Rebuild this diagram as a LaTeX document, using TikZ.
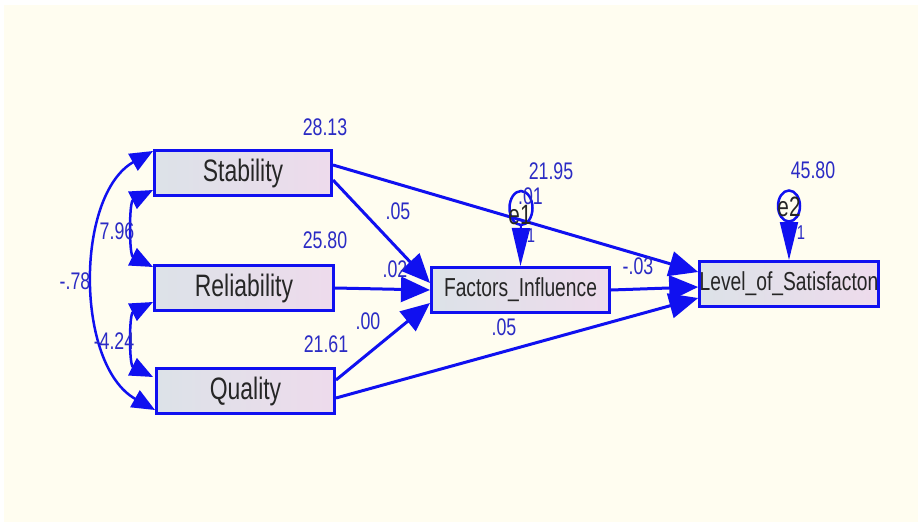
\documentclass[tikz,border=0pt]{standalone}
\usepackage{fontspec}
\newfontfamily\nf[FakeStretch=0.74]{Liberation Sans}
\usetikzlibrary{arrows.meta,shapes.geometric}
\definecolor{bg}{HTML}{FFFDF0}
\definecolor{ln}{HTML}{1010F0}
\definecolor{lbl}{HTML}{2B2BC4}
\definecolor{fl}{HTML}{DCE2E8}
\definecolor{fr}{HTML}{EEDBEC}
\begin{document}
\begin{tikzpicture}[x=1pt,y=-1pt,
  var/.style={draw=ln, line width=3pt, left color=fl, right color=fr, inner sep=0pt,
    minimum height=45pt, text=black!85},
  big/.style={font=\nf\fontsize{31}{31}\selectfont},
  small/.style={font=\nf\fontsize{26}{26}\selectfont},
  arr/.style={draw=ln, line width=3pt, -{Triangle[length=29pt,width=25pt]}},
  cov/.style={draw=ln, line width=2.5pt, {Triangle[length=23pt,width=19pt]}-{Triangle[length=23pt,width=19pt]}},
  err/.style={draw=ln, line width=2.5pt, ellipse, inner sep=0pt},
  etxt/.style={font=\nf\fontsize{28}{28}\selectfont, text=black!85, inner sep=0pt},
  earr/.style={draw=ln, line width=2pt, -{Triangle[length=38pt,width=18pt]}},
  lab/.style={font=\nf\fontsize{24}{24}\selectfont, text=lbl, inner sep=0pt},
  one/.style={font=\nf\fontsize{20}{20}\selectfont, text=lbl, inner sep=0pt}]
\useasboundingbox (0,0) rectangle (918,527);
\fill[white] (0,0) rectangle (918,527);
\fill[bg] (4,5) rectangle (918,522);

% boxes
\node[var, big, minimum width=177pt] (S) at (243,173) {Stability};
\node[var, big, minimum width=179pt] (R) at (244,288) {Reliability};
\node[var, big, minimum width=178pt] (Q) at (245.5,391) {Quality};
\node[var, small, minimum width=178pt] (F) at (520.5,290) {Factors\_Influence};
\node[var, small, minimum width=177pt] (L) at (789,284) {Level\_of\_Satisfacton};

% error circles
\node[err, minimum width=23pt, minimum height=34pt] (e1) at (521,208) {};
\node[err, minimum width=22pt, minimum height=31pt] (e2) at (789,206) {};

% paths
\draw[arr] ([yshift=8pt]S.east) -- ([yshift=12pt]L.west);
\draw[arr] ([yshift=-7pt]S.east) -- ([yshift=7pt]F.west);
\draw[arr] (R.east) -- (F.west);
\draw[arr] ([yshift=11pt]Q.east) -- ([yshift=-13pt]F.west);
\draw[arr] ([yshift=-7pt]Q.east) -- ([yshift=-14pt]L.west);
\draw[arr] (F.east) -- ([yshift=-3pt]L.west);

\draw[earr] ([yshift=2pt]e1.south) -- (F.north);
\draw[earr] ([yshift=2pt]e2.south) -- (L.north);

% covariances
\coordinate (s1) at (153,190);
\coordinate (r1) at (153,267);
\coordinate (r2) at (153,302);
\coordinate (q1) at (153,377);
\coordinate (s2) at (153,151);
\coordinate (q2) at (155,410);
\draw[cov] (s1) .. controls (129,202) and (129,255) .. (r1);
\draw[cov] (r2) .. controls (129,314) and (129,365) .. (q1);
\draw[cov] (s2) .. controls (75,195) and (75,365) .. (q2);

% texts on circles
\node[etxt] at (520,215) {e1};
\node[etxt] at (789,207) {e2};

% labels
\node[lab] at (325,127) {28.13};
\node[lab] at (325,240) {25.80};
\node[lab] at (326,344) {21.61};
\node[lab] at (117,231) {7.96};
\node[lab] at (75,281) {-.78};
\node[lab] at (114,341) {-4.24};
\node[lab] at (398,211) {.05};
\node[lab] at (395,269) {.02};
\node[lab] at (368,321) {.00};
\node[lab] at (504,327) {.05};
\node[lab] at (638,266) {-.03};
\node[lab] at (551,171) {21.95};
\node[lab, anchor=south east] at (543,205) {.01};
\node[lab] at (813,170) {45.80};
\node[one] at (531,236) {1};
\node[one] at (801,233) {1};
\end{tikzpicture}
\end{document}
